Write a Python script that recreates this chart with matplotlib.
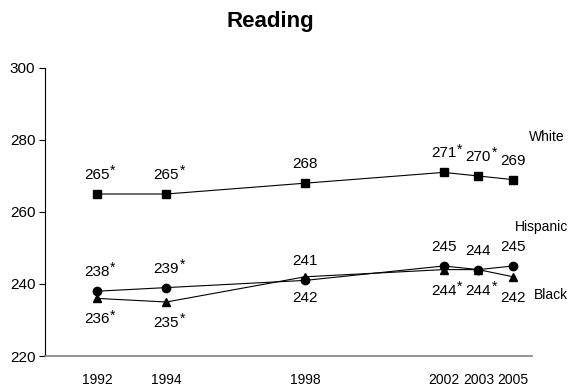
import matplotlib

matplotlib.use("Agg")
import matplotlib.pyplot as plt

plt.rcParams["font.family"] = ["Liberation Sans", "DejaVu Sans"]

# data
years = ["1992", "1994", "1998", "2002", "2003", "2005"]
white = [265, 265, 268, 271, 270, 269]
hispanic = [238, 239, 241, 245, 244, 245]
black = [236, 235, 242, 244, 244, 242]
white_sig = [True, True, False, True, True, False]
hispanic_sig = [True, True, False, False, False, False]
black_sig = [True, True, False, True, True, False]

# horizontal placement of the year categories (uneven spacing as in original)
x_pos = [0, 2, 6, 10, 11, 12]

fig = plt.figure(figsize=(5.71, 3.87), dpi=100)
ax = fig.add_axes([0.0788, 0.0801, 0.853, 0.7442])

series = [
    (white, white_sig, "s", 19),
    (hispanic, hispanic_sig, "o", 19),
    (black, black_sig, "^", -21),
]

for vals, sig, marker, off in series:
    ax.plot(x_pos, vals, color="black", lw=0.8, marker=marker, ms=6,
            markerfacecolor="black", markeredgecolor="black")
    for x, v, s in zip(x_pos, vals, sig):
        ax.annotate(str(v), (x, v), xytext=(0, off), textcoords="offset pixels",
                    ha="center", va="center", fontsize=11)
        if s:
            # significance marker, small and raised after the number
            ax.annotate("*", (x, v), xytext=(16, off + 4),
                        textcoords="offset pixels",
                        ha="center", va="center", fontsize=10)

# series names at the right edge
ax.text(12.96, 280.8, "White", ha="center", va="center", fontsize=10)
ax.text(12.82, 255.8, "Hispanic", ha="center", va="center", fontsize=10)
ax.text(13.1, 236.9, "Black", ha="center", va="center", fontsize=10)

ax.set_xlim(-1.5, 12.55)
ax.set_ylim(220, 300)
ax.set_yticks([220, 240, 260, 280, 300])
ax.set_xticks(x_pos)
ax.set_xticklabels(years)
ax.tick_params(axis="x", length=0, pad=12, labelsize=10)
ax.tick_params(axis="y", length=4, width=0.8, direction="out", labelsize=11, pad=3)

ax.spines["top"].set_visible(False)
ax.spines["right"].set_visible(False)
ax.spines["left"].set_color("black")
ax.spines["left"].set_linewidth(0.8)
ax.spines["bottom"].set_color("#808080")
ax.spines["bottom"].set_linewidth(1.2)

fig.text(270 / 571, 1 - 21 / 387, "Reading", ha="center", va="center",
         fontsize=16, fontweight="bold")

fig.savefig("out.png", dpi=100)
